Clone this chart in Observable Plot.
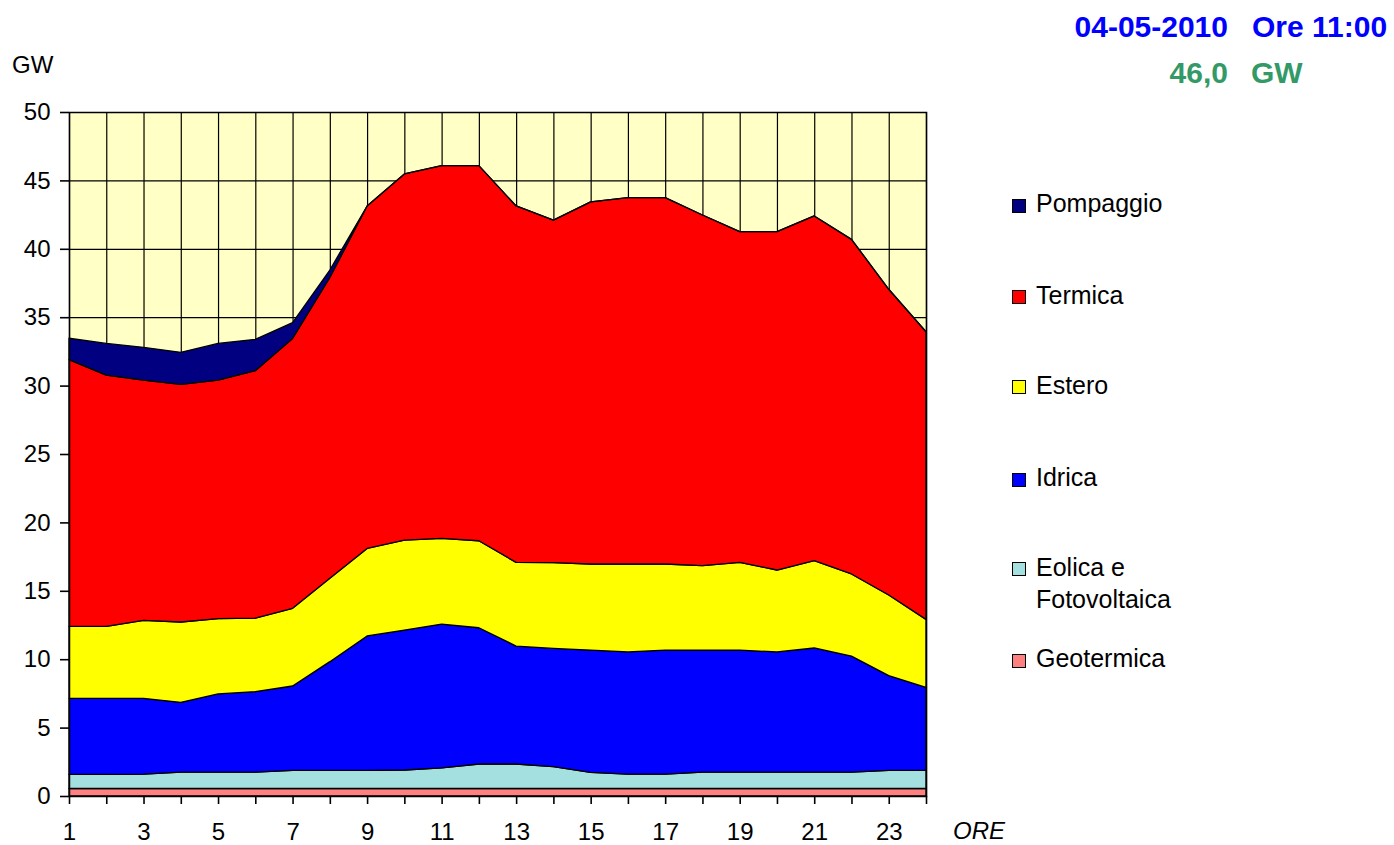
<!DOCTYPE html>
<html>
<head>
<meta charset="utf-8">
<script src="https://cdn.jsdelivr.net/npm/d3@7"></script>
<script src="https://cdn.jsdelivr.net/npm/@observablehq/plot@0.6"></script>
<style>
  html, body { margin: 0; padding: 0; background: #fff; }
  body { width: 1394px; height: 845px; position: relative; overflow: hidden;
         font-family: "Liberation Sans", Arial, sans-serif; }
  .abs { position: absolute; white-space: nowrap; }
  .t1 { font-size: 30px; font-weight: bold; line-height: 30px; }
  .leg { font-size: 25px; line-height: 25px; color: #000; }
  .sq { position: absolute; width: 14px; height: 14px; box-sizing: border-box; border: 1px solid #000; }
</style>
</head>
<body>
<div id="chart" class="abs" style="left:0;top:0"></div>
<script>
const hours = [1,2,3,4,5,6,7,8,9,10,11,12,13,14,15,16,17,18,19,20,21,22,23,24];
const yTicks = [0,5,10,15,20,25,30,35,40,45,50];
const seriesNames = ["Geotermica","Eolica e Fotovoltaica","Idrica","Estero","Termica","Pompaggio"];
const seriesColors = ["#FF8080","#A4E0E0","#0000FF","#FFFF00","#FF0000","#000080"];

const geotermica = [0.55,0.55,0.55,0.55,0.55,0.55,0.55,0.55,0.55,0.55,0.55,0.55,0.55,0.55,0.55,0.55,0.55,0.55,0.55,0.55,0.55,0.55,0.55,0.55];
const eolica     = [1.03,1.03,1.05,1.2,1.2,1.2,1.33,1.33,1.33,1.35,1.5,1.79,1.79,1.59,1.18,1.05,1.05,1.2,1.2,1.2,1.2,1.2,1.33,1.33];
const idrica     = [5.56,5.56,5.54,5.1,5.71,5.88,6.16,7.94,9.82,10.23,10.52,9.96,8.62,8.65,8.94,8.93,9.07,8.92,8.92,8.78,9.07,8.48,6.92,6.06];
const estero     = [5.26,5.26,5.7,5.87,5.5,5.37,5.68,6.1,6.4,6.58,6.26,6.36,6.12,6.27,6.29,6.43,6.29,6.17,6.41,5.99,6.38,6.0,5.89,4.97];
const termica    = [19.5,18.37,17.56,17.37,17.44,18.09,19.73,21.98,25.03,26.76,27.25,27.42,26.05,25.04,26.47,26.78,26.78,25.63,24.17,24.73,25.2,24.46,22.35,21.03];
const pompaggio  = [1.56,2.31,2.4,2.34,2.68,2.29,1.15,0.55,0,0,0,0,0,0,0,0,0,0,0,0,0,0,0,0];

const seriesValues = [geotermica, eolica, idrica, estero, termica, pompaggio];
const table = [];
seriesNames.forEach((name, i) => {
  hours.forEach((h, j) => table.push({hour: h, series: name, value: seriesValues[i][j]}));
});

const chart = Plot.plot({
  width: 1394,
  height: 845,
  marginLeft: 69,
  marginRight: 468,
  marginTop: 112,
  marginBottom: 49,
  x: {domain: [1, 24]},
  y: {domain: [0, 50]},
  color: {domain: seriesNames, range: seriesColors},
  style: {fontFamily: "'Liberation Sans', Arial, sans-serif", fontSize: "24px", color: "#000", background: "transparent"},
  marks: [
    Plot.frame({fill: "#FFFFC6", stroke: null}),
    Plot.gridX(hours, {stroke: "#000", strokeOpacity: 1, strokeWidth: 1.2}),
    Plot.gridY(yTicks, {stroke: "#000", strokeOpacity: 1, strokeWidth: 1.2}),
    Plot.areaY(table, {x: "hour", y: "value", z: "series", fill: "series", order: seriesNames,
                       stroke: "#000", strokeWidth: 1.3, strokeLinejoin: "round"}),
    Plot.frame({stroke: "#000", strokeWidth: 1.5}),
    Plot.axisY(yTicks, {tickSize: 9, tickPadding: 10, label: null, strokeWidth: 1.6}),
    Plot.axisX(hours, {tickSize: 8, tickPadding: 18, label: null, strokeWidth: 1.6,
                       tickFormat: d => (d % 2 ? String(d) : "")})
  ]
});
document.getElementById("chart").appendChild(chart);

// Header texts
const header = [
  {text: "04-05-2010", right: 1394 - 1228, top: 37 - 25.4, color: "#0000FF"},
  {text: "Ore 11:00", left: 1252, top: 37 - 25.4, color: "#0000FF"},
  {text: "46,0", right: 1394 - 1228, top: 83 - 25.4, color: "#339966"},
  {text: "GW", left: 1251, top: 83 - 25.4, color: "#339966"}
];
header.forEach(h => {
  const d = document.createElement("div");
  d.className = "abs t1";
  d.textContent = h.text;
  d.style.top = h.top + "px";
  d.style.color = h.color;
  if (h.right !== undefined) { d.style.right = h.right + "px"; d.style.textAlign = "right"; }
  else d.style.left = h.left + "px";
  document.body.appendChild(d);
});

// Axis titles and legend texts
function addText(text, left, baseline, extra) {
  const d = document.createElement("div");
  d.className = "abs leg";
  d.textContent = text;
  d.style.left = left + "px";
  d.style.top = (baseline - 21.2) + "px";
  if (extra) Object.assign(d.style, extra);
  document.body.appendChild(d);
}
addText("GW", 12, 73, {fontSize: "24px", lineHeight: "24px", top: (73 - 20.3) + "px"});
addText("ORE", 953, 839, {fontStyle: "italic", fontSize: "24px", lineHeight: "24px", top: (839 - 20.3) + "px"});

// Legend (top to bottom)
const legendItems = [
  {lines: ["Pompaggio"], baseline: 212.5, color: "#000080"},
  {lines: ["Termica"], baseline: 304, color: "#FF0000"},
  {lines: ["Estero"], baseline: 394, color: "#FFFF00"},
  {lines: ["Idrica"], baseline: 486.5, color: "#0000FF"},
  {lines: ["Eolica e", "Fotovoltaica"], baseline: 576, color: "#A4E0E0"},
  {lines: ["Geotermica"], baseline: 667.5, color: "#FF8080"}
];
legendItems.forEach(it => {
  const sq = document.createElement("div");
  sq.className = "sq";
  sq.style.left = "1012px";
  sq.style.top = (it.baseline - 14) + "px";
  sq.style.background = it.color;
  document.body.appendChild(sq);
  it.lines.forEach((ln, k) => addText(ln, 1036, it.baseline + k * 32));
});
</script>
</body>
</html>
